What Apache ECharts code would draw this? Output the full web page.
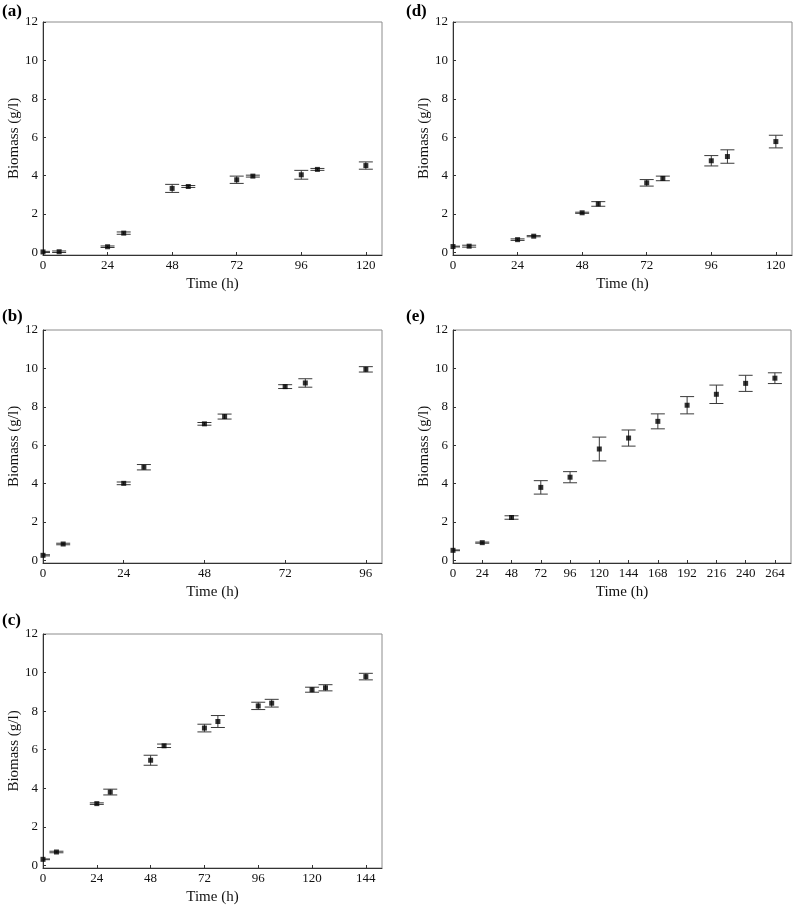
<!DOCTYPE html>
<html>
<head>
<meta charset="utf-8">
<script src="https://cdn.jsdelivr.net/npm/echarts@6/dist/echarts.min.js"></script>
<style>
html,body{margin:0;padding:0;background:#fff;}
#chart{width:794px;height:908px;}
</style>
</head>
<body>
<div id="chart"></div>
<script>
// ---- Data ----
const timesA = [0, 6, 24, 30, 48, 54, 72, 78, 96, 102, 120];
const meanA  = [0.02, 0.03, 0.29, 1.00, 3.33, 3.43, 3.78, 3.97, 4.04, 4.32, 4.52];
const errA   = [0.03, 0.04, 0.04, 0.06, 0.21, 0.05, 0.19, 0.05, 0.23, 0.05, 0.19];

const timesB = [0, 6, 24, 30, 48, 54, 72, 78, 96];
const meanB  = [0.26, 0.85, 4.01, 4.85, 7.11, 7.49, 9.05, 9.24, 9.95];
const errB   = [0.03, 0.04, 0.07, 0.14, 0.07, 0.13, 0.10, 0.22, 0.14];

const timesC = [0, 6, 24, 30, 48, 54, 72, 78, 96, 102, 120, 126, 144];
const meanC  = [0.31, 0.69, 3.20, 3.80, 5.45, 6.20, 7.12, 7.46, 8.27, 8.41, 9.11, 9.21, 9.79];
const errC   = [0.02, 0.04, 0.04, 0.15, 0.26, 0.09, 0.20, 0.31, 0.19, 0.20, 0.13, 0.16, 0.17];

const timesD = [0, 6, 24, 30, 48, 54, 72, 78, 96, 102, 120];
const meanD  = [0.30, 0.32, 0.66, 0.84, 2.06, 2.52, 3.62, 3.85, 4.77, 4.99, 5.77];
const errD   = [0.02, 0.05, 0.04, 0.03, 0.03, 0.12, 0.17, 0.12, 0.27, 0.35, 0.33];

const timesE = [0, 24, 48, 72, 96, 120, 144, 168, 192, 216, 240, 264];
const meanE  = [0.52, 0.92, 2.23, 3.80, 4.33, 5.80, 6.37, 7.24, 8.08, 8.65, 9.22, 9.49];
const errE   = [0.02, 0.03, 0.09, 0.35, 0.29, 0.62, 0.42, 0.39, 0.45, 0.48, 0.42, 0.28];

const yTicks  = [0, 2, 4, 6, 8, 10, 12];
const xTicksA = [0, 24, 48, 72, 96, 120];
const xTicksB = [0, 24, 48, 72, 96];
const xTicksC = [0, 24, 48, 72, 96, 120, 144];
const xTicksD = [0, 24, 48, 72, 96, 120];
const xTicksE = [0, 24, 48, 72, 96, 120, 144, 168, 192, 216, 240, 264];

const panelLabels = ['(a)', '(b)', '(c)', '(d)', '(e)'];
const xTitle = 'Time (h)';
const yTitle = 'Biomass (g/l)';

// ---- Build chart ----
const FONT = '"Liberation Serif", "DejaVu Serif", serif';
const panels = [
  {t: timesA, m: meanA, e: errA, ticks: xTicksA, grid: {left: 43, top: 22, width: 339, height: 233}, lab: [2, 3]},
  {t: timesB, m: meanB, e: errB, ticks: xTicksB, grid: {left: 43, top: 330, width: 339, height: 233}, lab: [2, 308]},
  {t: timesC, m: meanC, e: errC, ticks: xTicksC, grid: {left: 43, top: 634, width: 339, height: 234}, lab: [2, 612]},
  {t: timesD, m: meanD, e: errD, ticks: xTicksD, grid: {left: 453, top: 22, width: 339, height: 233}, lab: [406, 3]},
  {t: timesE, m: meanE, e: errE, ticks: xTicksE, grid: {left: 453, top: 330, width: 338, height: 233}, lab: [406, 308]}
];

const grids = [], xAxes = [], yAxes = [], series = [], graphics = [];
panels.forEach((p, i) => {
  grids.push(Object.assign({show: true, borderColor: '#8c8c8c', borderWidth: 1, backgroundColor: 'transparent'}, p.grid));
  const last = p.ticks[p.ticks.length - 1];
  xAxes.push({
    type: 'value', gridIndex: i, min: 0, max: last * 1.05,
    name: xTitle, nameLocation: 'middle', nameGap: 22,
    nameTextStyle: {fontFamily: FONT, fontSize: 15, color: '#111'},
    axisLine: {show: true, onZero: false, lineStyle: {color: '#333', width: 1}},
    axisTick: {show: true, inside: true, length: 3, customValues: p.ticks, lineStyle: {color: '#333'}},
    axisLabel: {customValues: p.ticks, fontFamily: FONT, fontSize: 13, color: '#111', margin: 4},
    splitLine: {show: false}
  });
  yAxes.push({
    type: 'value', gridIndex: i, min: -0.14, max: 12,
    name: yTitle, nameLocation: 'middle', nameGap: 21,
    nameTextStyle: {fontFamily: FONT, fontSize: 15, color: '#111'},
    axisLine: {show: true, onZero: false, lineStyle: {color: '#333', width: 1}},
    axisTick: {show: true, inside: true, length: 3, customValues: yTicks, lineStyle: {color: '#333'}},
    axisLabel: {customValues: yTicks, fontFamily: FONT, fontSize: 13, color: '#111', margin: 5},
    splitLine: {show: false}
  });
  const errData = p.t.map((t, k) => [t, p.m[k] - p.e[k], p.m[k] + p.e[k]]);
  series.push({
    type: 'custom', xAxisIndex: i, yAxisIndex: i, data: errData, z: 2,
    renderItem: function (params, api) {
      const x = api.value(0), lo = api.value(1), hi = api.value(2);
      const a = api.coord([x, lo]), b = api.coord([x, hi]);
      const cs = params.coordSys;
      const hw = 7;
      const x1 = Math.max(cs.x, a[0] - hw), x2 = Math.min(cs.x + cs.width, a[0] + hw);
      const st = {stroke: '#3a3a3a', lineWidth: 1};
      return {type: 'group', children: [
        {type: 'line', shape: {x1: a[0], y1: a[1], x2: b[0], y2: b[1]}, style: st},
        {type: 'line', shape: {x1: x1, y1: a[1], x2: x2, y2: a[1]}, style: st},
        {type: 'line', shape: {x1: x1, y1: b[1], x2: x2, y2: b[1]}, style: st}
      ]};
    }
  });
  series.push({
    type: 'scatter', xAxisIndex: i, yAxisIndex: i, z: 3,
    data: p.t.map((t, k) => [t, p.m[k]]),
    symbol: 'rect', symbolSize: 5,
    itemStyle: {color: '#000'},
    emphasis: {disabled: true}
  });
  graphics.push({
    type: 'text', left: p.lab[0], top: p.lab[1],
    style: {text: panelLabels[i], font: 'bold 17px ' + FONT, fill: '#000'}
  });
});

const chart = echarts.init(document.getElementById('chart'), null, {renderer: 'canvas'});
chart.setOption({
  backgroundColor: '#fff',
  animation: false,
  grid: grids,
  xAxis: xAxes,
  yAxis: yAxes,
  series: series,
  graphic: graphics
});
</script>
</body>
</html>
